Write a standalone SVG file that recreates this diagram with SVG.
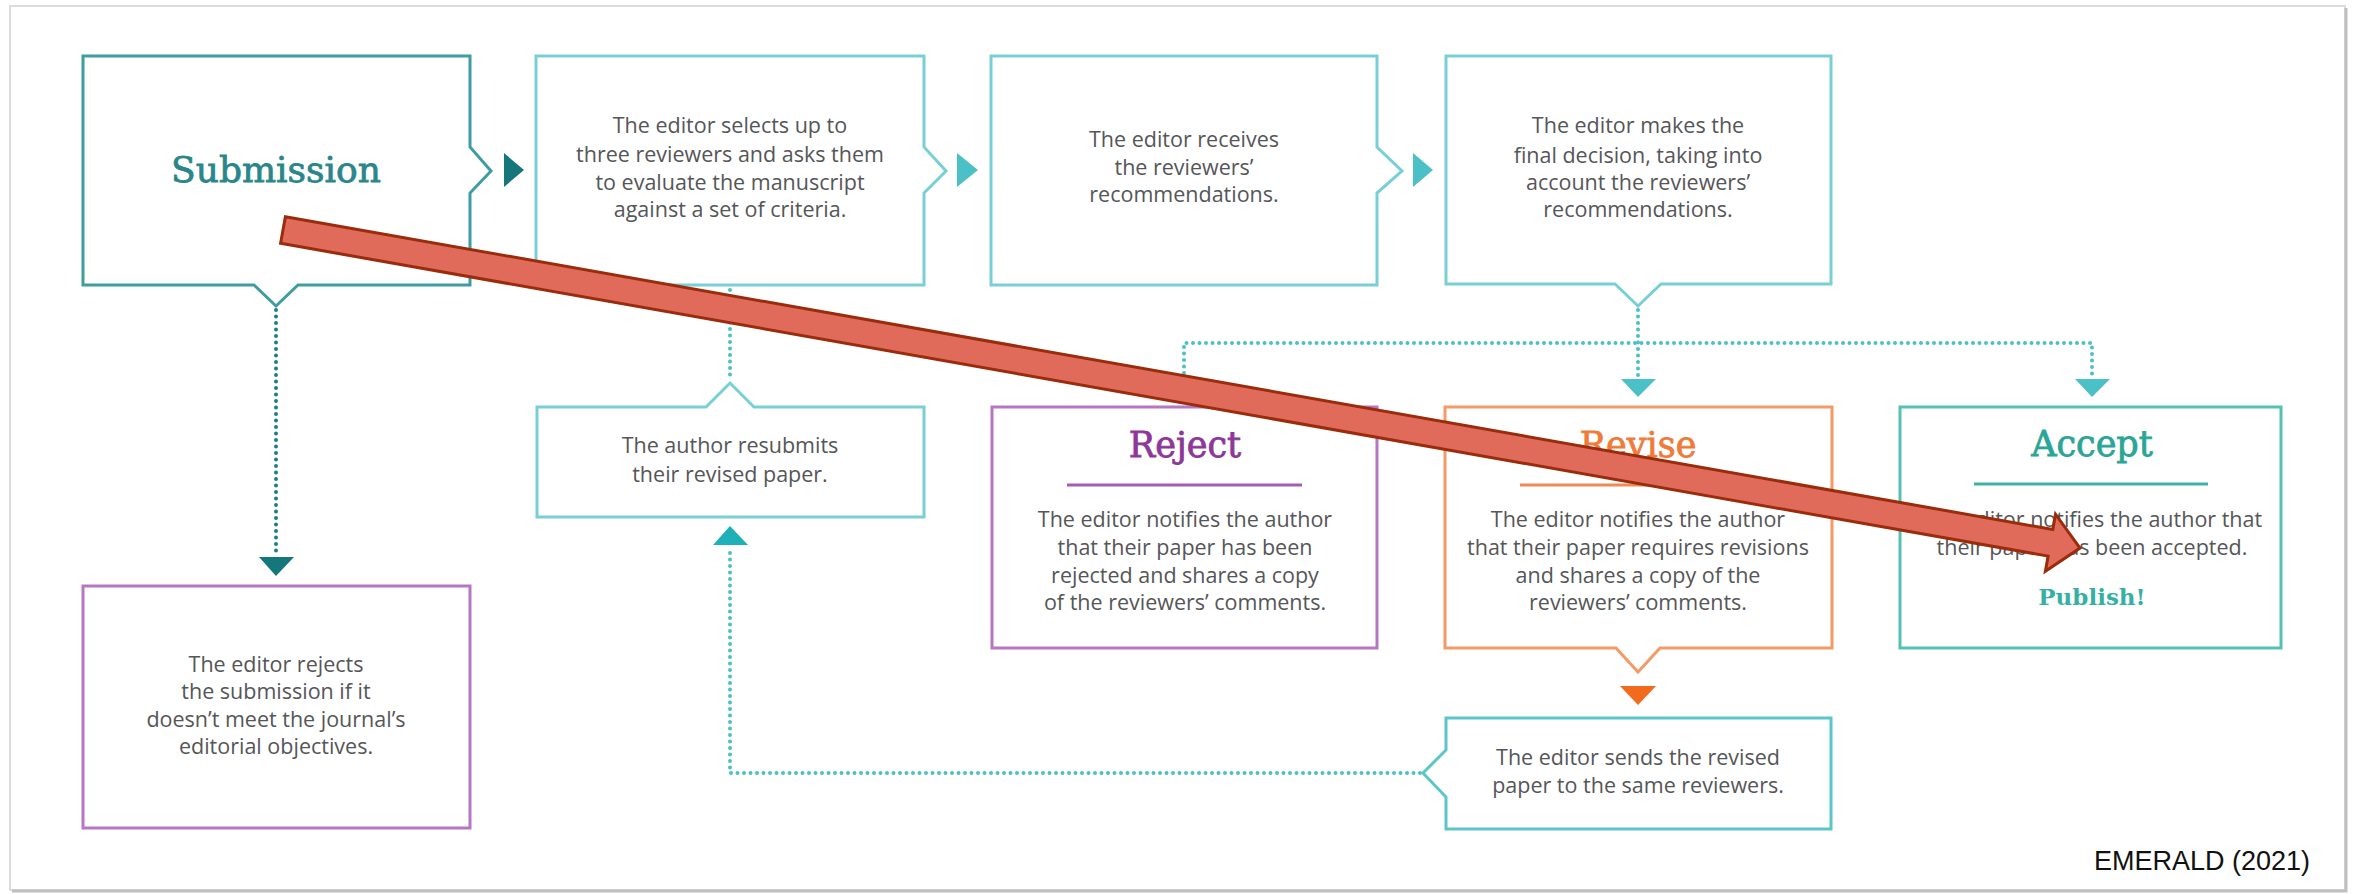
<svg xmlns="http://www.w3.org/2000/svg" width="2356" height="894" viewBox="0 0 2356 894">
<defs>
<style>
.frame{fill:#ffffff;stroke:#dcdcdc;stroke-width:2}
.box{fill:#ffffff;stroke-width:3;stroke-linejoin:miter}
.teal-dark{stroke:#3f9ca1}
.teal{stroke:#78d0d6}
.purple{stroke:#b676c3}
.orange{stroke:#f39a66}
.green{stroke:#55c1b5}
.body{font-family:"Open Sans","Liberation Sans",sans-serif;font-size:21.5px;fill:#555658;text-anchor:middle}
.title{font-family:"DejaVu Serif","Liberation Serif",serif;text-anchor:middle;stroke-width:0.8}
.dot{fill:none;stroke-width:4;stroke-linecap:round;stroke-dasharray:0 6.5}
</style>
</defs>
<rect class="frame" x="10" y="6" width="2335" height="884"/>
<path d="M2346,8 V891 H12" fill="none" stroke="#bfbfbf" stroke-width="3"/>

<g id="connectors">
<polygon points="504,153 524,170 504,187" fill="#15767c"/>
<polygon points="957,153 978,170 957,187" fill="#4cc0c7"/>
<polygon points="1413,153 1433,170 1413,187" fill="#4cc0c7"/>
<path class="dot" d="M276,310 V553" stroke="#1d7f85"/>
<polygon points="259,557 294,557 276,576" fill="#15767c"/>
<path class="dot" d="M730,290 V380" stroke="#4cc0c7"/>
<path class="dot" d="M1638,310 V377" stroke="#4cc0c7"/>
<path class="dot" d="M1184,373 V343 H2092 V377" stroke="#4cc0c7"/>
<polygon points="1621,379 1656,379 1638,397" fill="#4cc0c7"/>
<polygon points="2075,379 2110,379 2092,397" fill="#4cc0c7"/>
<polygon points="1620,686 1656,686 1638,705" fill="#f26b1d"/>
<path class="dot" d="M1420,773 H730 V549" stroke="#4cc0c7"/>
<polygon points="713,545 748,545 730,526" fill="#1fb0b8"/>
</g>

<g id="submission">
<path class="box teal-dark" d="M83,56 H470 V147 L491,171 L470,193 V285 H298 L276,306 L254,285 H83 Z"/>
<text class="title" x="276" y="182" font-size="36" fill="#2a868b" stroke="#2a868b">Submission</text>
</g>

<g id="select-reviewers">
<path class="box teal" d="M536,56 H924 V147 L946,171 L924,193 V285 H536 Z"/>
<text class="body" x="730" y="133">The editor selects up to</text>
<text class="body" x="730" y="162">three reviewers and asks them</text>
<text class="body" x="730" y="190">to evaluate the manuscript</text>
<text class="body" x="730" y="217">against a set of criteria.</text>
</g>

<g id="receive-recommendations">
<path class="box teal" d="M991,56 H1377 V147 L1402,171 L1377,193 V285 H991 Z"/>
<text class="body" x="1184" y="147">The editor receives</text>
<text class="body" x="1184" y="175">the reviewers’</text>
<text class="body" x="1184" y="202">recommendations.</text>
</g>

<g id="final-decision">
<path class="box teal" d="M1446,56 H1831 V284 H1661 L1638,306 L1615,284 H1446 Z"/>
<text class="body" x="1638" y="133">The editor makes the</text>
<text class="body" x="1638" y="163">final decision, taking into</text>
<text class="body" x="1638" y="190">account the reviewers’</text>
<text class="body" x="1638" y="217">recommendations.</text>
</g>

<g id="desk-reject">
<rect class="box purple" x="83" y="586" width="387" height="242"/>
<text class="body" x="276" y="672">The editor rejects</text>
<text class="body" x="276" y="699">the submission if it</text>
<text class="body" x="276" y="727">doesn’t meet the journal’s</text>
<text class="body" x="276" y="754">editorial objectives.</text>
</g>

<g id="author-resubmits">
<path class="box teal" d="M537,407 H706 L730,383 L754,407 H924 V517 H537 Z"/>
<text class="body" x="730" y="453">The author resubmits</text>
<text class="body" x="730" y="482">their revised paper.</text>
</g>

<g id="reject">
<rect class="box purple" x="992" y="407" width="385" height="241"/>
<text class="title" x="1185" y="457" font-size="35" fill="#8d3798" stroke="#8d3798">Reject</text>
<line x1="1067" y1="485" x2="1302" y2="485" stroke="#a55db2" stroke-width="3"/>
<text class="body" x="1185" y="527">The editor notifies the author</text>
<text class="body" x="1185" y="555">that their paper has been</text>
<text class="body" x="1185" y="583">rejected and shares a copy</text>
<text class="body" x="1185" y="610">of the reviewers’ comments.</text>
</g>

<g id="revise">
<path class="box orange" d="M1445,407 H1832 V648 H1660 L1638,672 L1616,648 H1445 Z"/>
<text class="title" x="1638" y="457" font-size="35" fill="#f07a3a" stroke="#f07a3a">Revise</text>
<line x1="1520" y1="485" x2="1756" y2="485" stroke="#f08a52" stroke-width="3"/>
<text class="body" x="1638" y="527">The editor notifies the author</text>
<text class="body" x="1638" y="555">that their paper requires revisions</text>
<text class="body" x="1638" y="583">and shares a copy of the</text>
<text class="body" x="1638" y="610">reviewers’ comments.</text>
</g>

<g id="accept">
<rect class="box green" x="1900" y="407" width="381" height="241"/>
<text class="title" x="2092" y="456" font-size="35" fill="#2aa597" stroke="#2aa597">Accept</text>
<line x1="1974" y1="484" x2="2208" y2="484" stroke="#3fb3a6" stroke-width="3"/>
<text class="body" x="2092" y="527">The editor notifies the author that</text>
<text class="body" x="2092" y="555">their paper has been accepted.</text>
<text class="title" x="2092" y="605" font-size="23" font-weight="bold" fill="#35b0a2" stroke-width="0">Publish!</text>
</g>

<g id="send-revised">
<path class="box teal" d="M1446,718 H1831 V829 H1446 V797 L1423,773 L1446,750 Z" style="stroke:#5cc5cc"/>
<text class="body" x="1638" y="765">The editor sends the revised</text>
<text class="body" x="1638" y="793">paper to the same reviewers.</text>
</g>

<g id="source">
<text x="2310" y="870" font-family="Liberation Sans, Arial, sans-serif" font-size="27" fill="#111" text-anchor="end">EMERALD (2021)</text>
</g>

<g id="overlay-arrow">
<polygon points="285.4,216.7 2052.8,529.5 2055.5,514.2 2080,548 2045.4,571.3 2048.1,556.1 280.6,243.3" fill="#e06b5b" stroke="#9a2c0c" stroke-width="3" stroke-linejoin="miter"/>
</g>
</svg>
